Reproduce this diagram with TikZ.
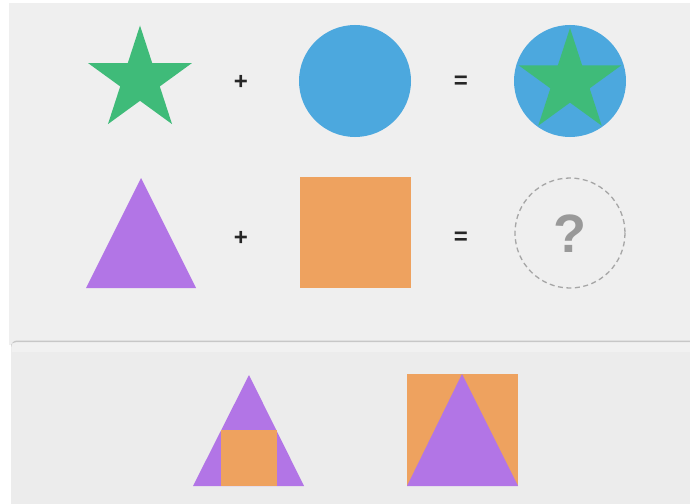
\documentclass[tikz,border=0pt]{standalone}
\usepackage{fontspec}
\setsansfont{Liberation Sans}
\usetikzlibrary{positioning}
\definecolor{panelgray}{HTML}{EFEFEF}
\definecolor{traygray}{HTML}{ECECEC}
\definecolor{stargreen}{HTML}{3FBB79}
\definecolor{discblue}{HTML}{4CA8DE}
\definecolor{trililac}{HTML}{B275E6}
\definecolor{boxorange}{HTML}{EEA25F}

\begin{document}
\begin{tikzpicture}[
    x=1pt, y=-1pt,
    op/.style={font=\sffamily\bfseries\fontsize{24}{24}\selectfont, text=black!85},
    qmark/.style={font=\sffamily\bfseries\fontsize{54}{54}\selectfont, text=black!40},
    pics/fivestar/.style={code={
        \fill[pic actions] (-90:#1) \foreach \a in {1,...,9}
          { -- ({-90+36*\a}:{ifthenelse(mod(\a,2)==0, #1, 0.382*#1)}) } -- cycle;}}
]
\useasboundingbox (0,0) rectangle (690,503);

% ---------- background panels ----------
\fill[white] (0,0) rectangle (690,503);
\fill[panelgray] (9,3) rectangle (690,345);
\fill[black!22, rounded corners=6pt] (11,340.5) rectangle (696,510);
\fill[traygray, rounded corners=6pt] (11,342) rectangle (696,510);
\fill[black!4, opacity=0.6] (12,343) rectangle (690,352);

% ---------- row 1: star + disc = starred disc ----------
\pic[stargreen] at (140,80) {fivestar=54.5};
\node[op] (plus1) at (241,82) {+};
\fill[discblue] (355,81) circle (56);
\node[op] (eq1) at (461,82) {=};
\fill[discblue] (570,81) circle (56);
\pic[stargreen] at (570,82) {fivestar=54};

% ---------- row 2: triangle + square = ? ----------
\fill[trililac] (86,288) -- (196,288) -- (141,178) -- cycle;
\node[op] (plus2) at (241,238) {+};
\fill[boxorange] (300,177) rectangle (411,288);
\node[op] (eq2) at (461,238) {=};
\draw[black!35, line width=1.3pt, dash pattern=on 5pt off 3.5pt] (570,233) circle (55);
\node[qmark] (ask) at (570,234) {?};

% ---------- answers ----------
\fill[trililac] (193,486) -- (304,486) -- (249,375) -- cycle;
\fill[boxorange] (221,430) rectangle (277,486);
\fill[boxorange] (407,374) rectangle (518,486);
\fill[trililac] (407,486) -- (518,486) -- (462,374) -- cycle;

\end{tikzpicture}
\end{document}
